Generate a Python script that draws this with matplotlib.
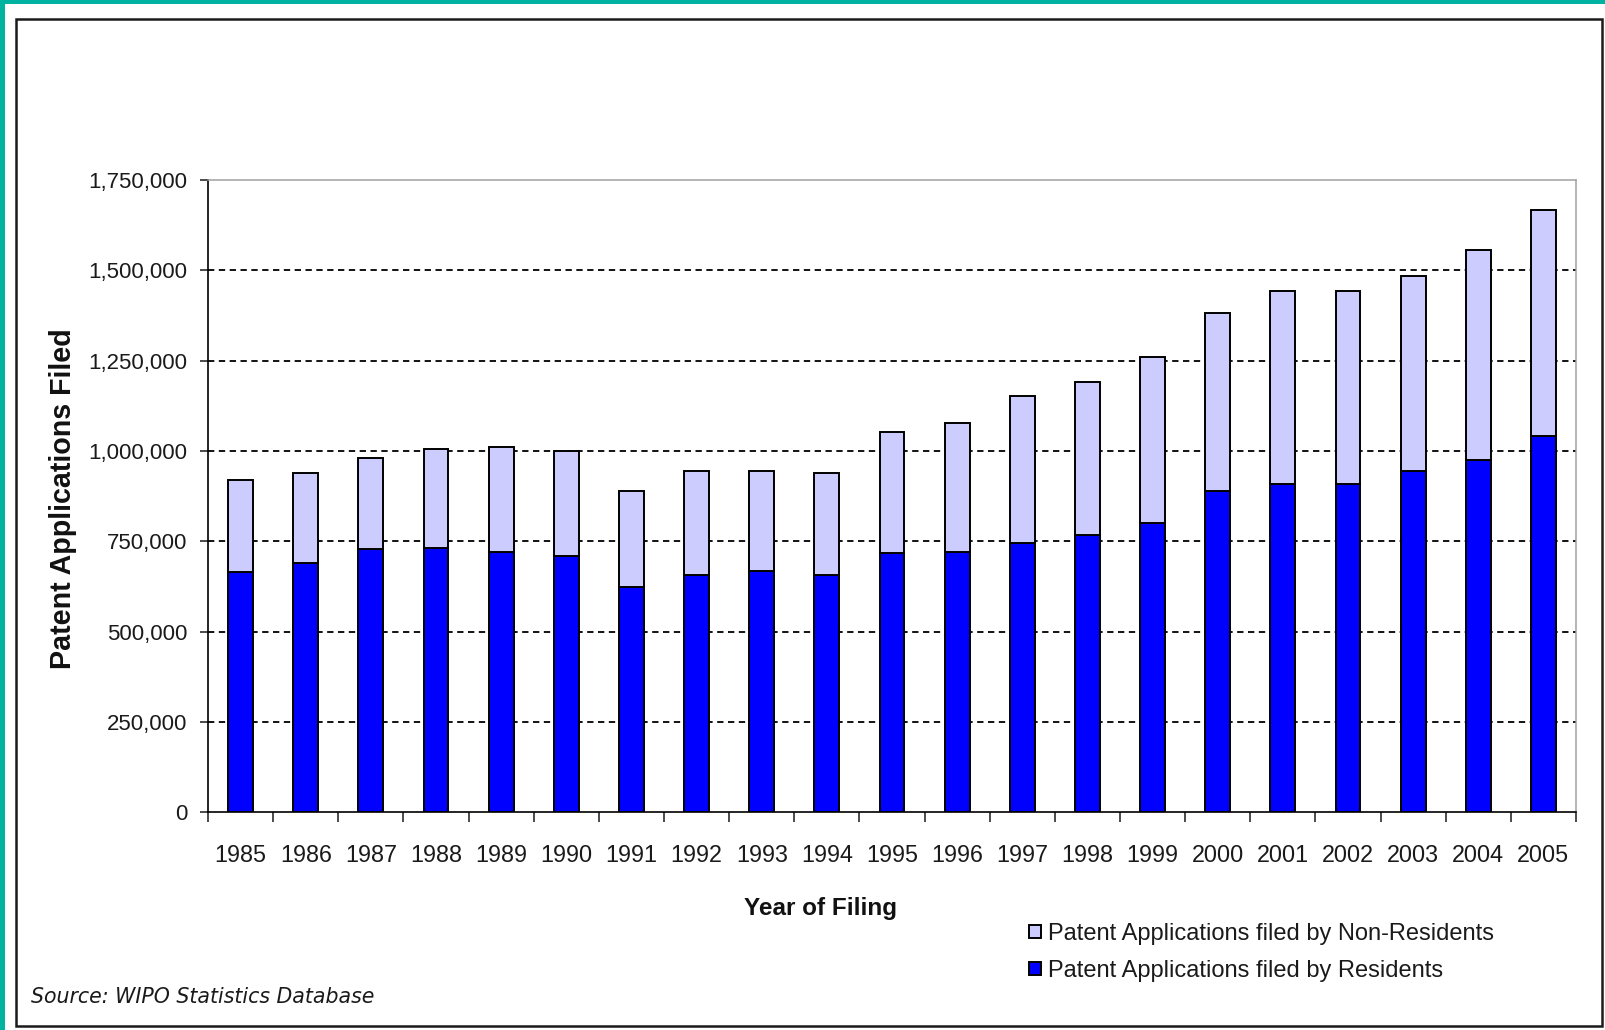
import numpy as np
import matplotlib
matplotlib.use("Agg")
import matplotlib.pyplot as plt
from matplotlib.patches import Rectangle
from matplotlib.ticker import FuncFormatter, FixedLocator
from matplotlib import font_manager

# ---------------- data ----------------
years = ["1985", "1986", "1987", "1988", "1989", "1990", "1991", "1992", "1993", "1994",
         "1995", "1996", "1997", "1998", "1999", "2000", "2001", "2002", "2003", "2004", "2005"]
residents = [666000, 691000, 728000, 732000, 720000, 709000, 624000, 658000, 669000, 658000,
             719000, 720000, 744000, 767000, 800000, 890000, 909000, 909000, 945000, 975000, 1042000]
non_residents = [254000, 249000, 253000, 273000, 292000, 290000, 266000, 286000, 275000, 280000,
                 334000, 358000, 407000, 425000, 460000, 491000, 533000, 533000, 538000, 581000, 625000]
y_ticks = [0, 250000, 500000, 750000, 1000000, 1250000, 1500000, 1750000]
legend_labels = ["Patent Applications filed by Non-Residents", "Patent Applications filed by Residents"]
x_title = "Year of Filing"
y_title = "Patent Applications Filed"
source_text = "Source: WIPO Statistics Database"

# ---------------- fonts ----------------
names = {f.name for f in font_manager.fontManager.ttflist}
if "Liberation Sans Narrow" in names:
    narrow = ["Liberation Sans Narrow", "DejaVu Sans"]
    xt_size, leg_size = 20.0, 20.5
else:
    narrow = ["Liberation Sans", "DejaVu Sans"]
    xt_size, leg_size = 16.8, 17.0
sans = ["Liberation Sans", "DejaVu Sans"]

W, H = 1606, 1030
fig = plt.figure(figsize=(W / 100, H / 100), dpi=100)
fig.patch.set_facecolor("#00B3A1")

def fx(px):
    return px / W

def fy(py):
    return 1 - py / H

# white page & black frame
fig.add_artist(Rectangle((fx(5), 0), fx(W - 5), 1 - 4 / H, transform=fig.transFigure,
                         facecolor="white", edgecolor="none", zorder=-10))
fig.add_artist(Rectangle((fx(16), fy(1026)), fx(1602 - 16), (1026 - 19) / H,
                         transform=fig.transFigure, facecolor="none",
                         edgecolor="#1a1a1a", lw=1.8, zorder=-5))

ax = fig.add_axes([fx(208), fy(812.3), fx(1576 - 208), (812.3 - 180) / H])
ax.set_facecolor("white")

x = np.arange(len(years))
bw = 0.38
res_bars = ax.bar(x, residents, width=bw, color="#0000FF", edgecolor="black", lw=1.4, zorder=3)
non_bars = ax.bar(x, non_residents, bottom=residents, width=bw, color="#CCCCFF",
                  edgecolor="black", lw=1.4, zorder=3)

ax.set_xlim(-0.5, len(years) - 0.5)
ax.set_ylim(y_ticks[0], y_ticks[-1])

# y axis
ax.yaxis.set_major_locator(FixedLocator(y_ticks))
ax.yaxis.set_major_formatter(FuncFormatter(lambda v, p: f"{v:,.0f}"))
ax.tick_params(axis="y", direction="out", length=5.8, width=1.1, pad=9.0,
               labelsize=16, colors="#1a1a1a")
for lab in ax.get_yticklabels():
    lab.set_family(sans)

ax.yaxis.grid(True, linestyle=(0, (3.5, 2.5)), color="black", lw=1.3)
ax.set_axisbelow(True)
gls = ax.yaxis.get_gridlines()
gls[0].set_visible(False)
gls[-1].set_visible(False)

# x axis: tick marks between categories, labels at centres
ax.xaxis.set_major_locator(FixedLocator(np.arange(-0.5, len(years), 1.0)))
ax.xaxis.set_major_formatter(FuncFormatter(lambda v, p: ""))
ax.xaxis.set_minor_locator(FixedLocator(x))
ax.set_xticks(x, labels=years, minor=True)
ax.tick_params(axis="x", which="major", direction="out", length=7.2, width=1.1, color="#1a1a1a")
ax.tick_params(axis="x", which="minor", length=0, pad=23, labelsize=xt_size, colors="#1a1a1a")
for lab in ax.get_xticklabels(minor=True):
    lab.set_family(narrow)

# spines
for s in ("left", "bottom"):
    ax.spines[s].set_color("black")
    ax.spines[s].set_linewidth(1.2)
for s in ("top", "right"):
    ax.spines[s].set_color("#A0A0A0")
    ax.spines[s].set_linewidth(1.1)

# titles
fig.text(fx(820), fy(908), x_title, ha="center", va="center", fontsize=17.5,
         fontweight="bold", family=sans, color="#111111")
fig.text(fx(63.5), fy(499), y_title, ha="center", va="center", rotation=90,
         fontsize=20.6, fontweight="bold", family=sans, color="#111111")

# legend
leg = fig.legend([non_bars, res_bars], legend_labels, loc="upper left",
                 bbox_to_anchor=(fx(1029), fy(923)), bbox_transform=fig.transFigure,
                 frameon=False, borderpad=0, borderaxespad=0,
                 handlelength=0.5, handleheight=0.5, handletextpad=0.3,
                 labelspacing=0.62, prop={"family": narrow, "size": leg_size})
for t in leg.get_texts():
    t.set_color("#1a1a1a")

# source
fig.text(fx(31), fy(997), source_text, ha="left", va="center", fontsize=14.8,
         fontstyle="italic", family=["DejaVu Sans"], color="#1a1a1a")

fig.savefig("out.png", dpi=100, facecolor=fig.get_facecolor())
